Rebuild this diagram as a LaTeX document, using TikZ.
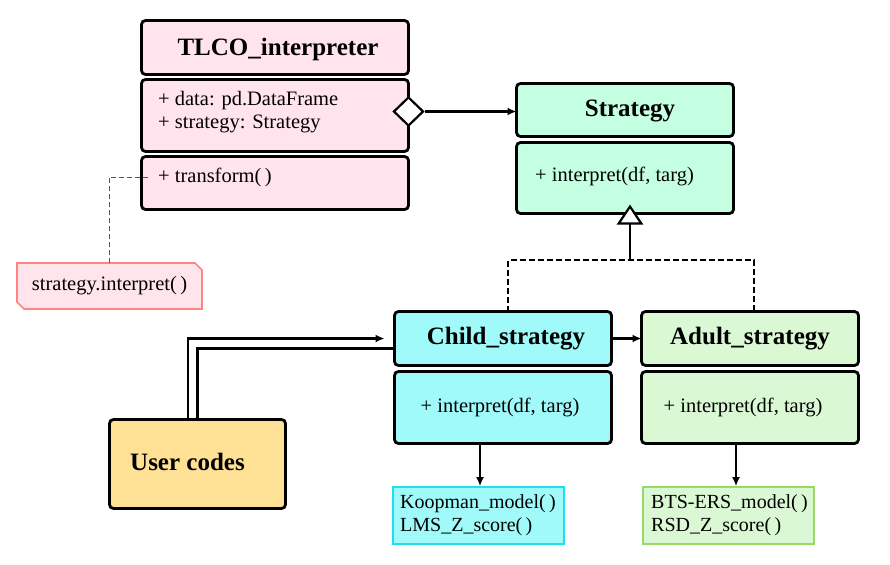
\documentclass[tikz,border=0pt]{standalone}
\usepackage{fontspec}
\setmainfont{Liberation Serif}
\usetikzlibrary{arrows.meta,shapes.geometric}
\definecolor{tlcofill}{HTML}{FFE4EE}
\definecolor{stratfill}{HTML}{C4FFE2}
\definecolor{childfill}{HTML}{A0FAFA}
\definecolor{adultfill}{HTML}{DAF8D4}
\definecolor{userfill}{HTML}{FFE196}
\definecolor{notefill}{HTML}{FFE4EC}
\definecolor{notedraw}{HTML}{FF8484}
\definecolor{koopdraw}{HTML}{22DDEE}
\definecolor{btsdraw}{HTML}{99D866}
\definecolor{notegray}{HTML}{555555}
\tikzset{
  umlbox/.style={draw, line width=2.8pt, rounded corners=4pt, inner sep=0pt, outer sep=0pt},
  titletext/.style={font=\fontsize{25}{28}\selectfont\bfseries, inner sep=0pt},
  bodytext/.style={font=\fontsize{20.5}{23}\selectfont, align=left, inner sep=0pt, anchor=west},
  smallbox/.style={draw, line width=1.6pt, inner sep=0pt, minimum width=171pt, minimum height=57pt},
  conn/.style={line width=2.4pt, -{Latex[length=9pt,width=8pt]}},
  realize/.style={line width=2.2pt, dash pattern=on 6pt off 3pt},
}
\begin{document}
\begin{tikzpicture}[x=1pt,y=-1pt]
\useasboundingbox (0,0) rectangle (890,564);
% TLCO_interpreter
\node[umlbox, fill=tlcofill, minimum width=267pt, minimum height=54pt] (tlcohead) at (275,47.5) {};
\node[titletext] (tlcotitle) at (278,49) {TLCO\_interpreter};
\node[umlbox, fill=tlcofill, minimum width=267pt, minimum height=72pt] (tlcoattr) at (275,115.5) {};
\node[bodytext] (tlcoattrtext) at (158,112) {+ data: pd.DataFrame\\+ strategy: Strategy};
\node[umlbox, fill=tlcofill, minimum width=267pt, minimum height=53pt] (tlcometh) at (275,183) {};
\node[bodytext] (tlcomethtext) at (158,177) {+ transform(\,)};
% Strategy
\node[umlbox, fill=stratfill, minimum width=217pt, minimum height=53pt] (strathead) at (625,110) {};
\node[titletext] (strattitle) at (630,111) {Strategy};
\node[umlbox, fill=stratfill, minimum width=217pt, minimum height=71pt] (stratbody) at (625,178) {};
\node[bodytext] (stratbodytext) at (535,176) {+ interpret(df, targ)};
% Child_strategy
\node[umlbox, fill=childfill, minimum width=217pt, minimum height=54pt] (childhead) at (503,338.5) {};
\node[titletext] (childtitle) at (506,339) {Child\_strategy};
\node[umlbox, fill=childfill, minimum width=217pt, minimum height=72pt] (childbody) at (503,407.5) {};
\node[bodytext, anchor=center] (childbodytext) at (500,407) {+ interpret(df, targ)};
% Adult_strategy
\node[umlbox, fill=adultfill, minimum width=217pt, minimum height=54pt] (adulthead) at (750,338.5) {};
\node[titletext] (adulttitle) at (750,339) {Adult\_strategy};
\node[umlbox, fill=adultfill, minimum width=217pt, minimum height=72pt] (adultbody) at (750,407.5) {};
\node[bodytext, anchor=center] (adultbodytext) at (743,407) {+ interpret(df, targ)};
% User codes
\node[umlbox, fill=userfill, minimum width=176pt, minimum height=89pt] (user) at (197.5,464) {};
\node[titletext, anchor=west] (usertext) at (130,462) {User codes};
% result boxes
\node[smallbox, draw=koopdraw, fill=childfill] (koop) at (478.5,515.5) {};
\node[bodytext, font=\fontsize{20}{23}\selectfont] (kooptext) at (400,515.5) {Koopman\_model(\,)\\LMS\_Z\_score(\,)};
\node[smallbox, draw=btsdraw, fill=adultfill] (bts) at (728.5,515.5) {};
\node[bodytext, font=\fontsize{20}{23}\selectfont] (btstext) at (651,515.5) {BTS-ERS\_model(\,)\\RSD\_Z\_score(\,)};
% note
\filldraw[draw=notedraw, fill=notefill, line width=1.6pt]
  (17,263) -- (195,263) -- (202,270) -- (202,309) -- (24,309) -- (17,302) -- cycle;
\node[bodytext, anchor=center] (notetext) at (109.5,286) {strategy.interpret(\,)};
\coordinate (notetop) at (109,263);
% connectors
\draw[notegray, line width=1pt, dash pattern=on 5pt off 3pt] (notetop) |- ([xshift=7pt]tlcometh.west |- tlcomethtext.west);
\node[diamond, draw, fill=white, line width=2.2pt, minimum width=30pt, minimum height=29pt, inner sep=0pt] (diam) at ([yshift=4pt]tlcoattr.east) {};
\draw[conn] (diam.east) -- (diam.east -| strathead.west);
\coordinate (join) at (630,260);
\draw[realize] (childhead.north -| 508,0) |- (join) -| (adulthead.north -| 754,0);
\draw[line width=2.2pt, -{Triangle[open, fill=white, length=20pt, width=26pt, line width=2.2pt]}] (join) -- ([yshift=9pt]stratbody.south -| join);
\draw[conn] (childhead.east) -- (adulthead.west);
\draw[conn] ([xshift=-9.5pt]user.north) |- ([xshift=-10pt]childhead.west);
\draw[line width=2.4pt] (user.north) |- ([yshift=-10pt]childhead.west);
\draw[conn] (childbody.south -| 480,0) -- (koop.north -| 480,0);
\draw[conn] (adultbody.south -| 736,0) -- (bts.north -| 736,0);
\end{tikzpicture}
\end{document}
